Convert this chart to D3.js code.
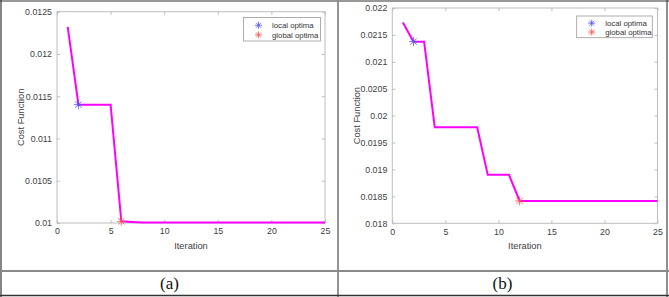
<!DOCTYPE html>
<html><head><meta charset="utf-8">
<script src="https://cdn.jsdelivr.net/npm/d3@7"></script>
<style>body{margin:0;background:#fff}svg{display:block}</style>
</head><body>
<svg id="c" width="669" height="297"></svg>
<script>
// ---- data ----
const iterations = d3.range(1, 26);
const costA = [0.01232, 0.01140, 0.01140, 0.01140, 0.01140, 0.010020, 0.010012,
  0.010005,0.010005,0.010005,0.010005,0.010005,0.010005,0.010005,0.010005,0.010005,
  0.010005,0.010005,0.010005,0.010005,0.010005,0.010005,0.010005,0.010005,0.010005];
const costB = [0.02173, 0.021375, 0.021375, 0.019785, 0.019785, 0.019785, 0.019785, 0.019785,
  0.01890, 0.01890, 0.01890, 0.018415, 0.018415, 0.018415, 0.018415, 0.018415, 0.018415,
  0.018415, 0.018415, 0.018415, 0.018415, 0.018415, 0.018415, 0.018415, 0.018415];
const localA = {x: 2, y: 0.01140}, globalA = {x: 6, y: 0.010020};
const localB = {x: 2, y: 0.021375}, globalB = {x: 12, y: 0.018415};
const xTicks = [0, 5, 10, 15, 20, 25];
const yTicksA = [0.01, 0.0105, 0.011, 0.0115, 0.012, 0.0125];
const yTicksB = [0.018, 0.0185, 0.019, 0.0195, 0.02, 0.0205, 0.021, 0.0215, 0.022];
const legendLabels = ["local optima", "global optima"];
const captions = ["(a)", "(b)"];

const svg = d3.select("#c");
svg.append("rect").attr("width",669).attr("height",297).attr("fill","#fff");

const FONT = "'Liberation Sans', Arial, Helvetica, sans-serif";

function asterisk(g, cx, cy, color, r, w) {
  const s = g.append("g").attr("transform", `translate(${cx},${cy})`)
    .attr("stroke", color).attr("stroke-width", w || 0.8);
  [0, 45, 90, 135].forEach(a => {
    const t = a * Math.PI / 180;
    s.append("line").attr("x1", -r*Math.cos(t)).attr("y1", -r*Math.sin(t))
      .attr("x2", r*Math.cos(t)).attr("y2", r*Math.sin(t));
  });
}

function panel(cfg) {
  const x = d3.scaleLinear().domain([0, 25]).range([cfg.x0, cfg.x1]);
  const y = d3.scaleLinear().domain(cfg.yDomain).range([cfg.y1, cfg.y0]);
  const g = svg.append("g");
  const axisColor = "#bdbdbd", textColor = "#404040";

  g.append("rect").attr("x", cfg.x0).attr("y", cfg.y0)
    .attr("width", cfg.x1 - cfg.x0).attr("height", cfg.y1 - cfg.y0)
    .attr("fill", "none").attr("stroke", axisColor).attr("stroke-width", 1);

  const ax = g.append("g").attr("transform", `translate(0,${cfg.y1})`)
    .call(d3.axisBottom(x).tickValues(xTicks).tickSize(-3).tickPadding(5).tickFormat(d3.format("d")));
  const axT = g.append("g").attr("transform", `translate(0,${cfg.y0})`)
    .call(d3.axisTop(x).tickValues(xTicks).tickSize(-3).tickFormat(""));
  const ay = g.append("g").attr("transform", `translate(${cfg.x0},0)`)
    .call(d3.axisLeft(y).tickValues(cfg.yTicks).tickSize(-3).tickPadding(5).tickFormat(d => String(+d.toFixed(5))));
  const ayR = g.append("g").attr("transform", `translate(${cfg.x1},0)`)
    .call(d3.axisRight(y).tickValues(cfg.yTicks).tickSize(-3).tickFormat(""));
  [ax, axT, ay, ayR].forEach(a => {
    a.select(".domain").remove();
    a.selectAll("line").attr("stroke", axisColor);
    a.selectAll("text").attr("fill", textColor).style("font-family", FONT).style("font-size", "8.8px");
  });

  g.append("text").attr("x", (cfg.x0 + cfg.x1) / 2).attr("y", cfg.y1 + 26)
    .attr("text-anchor", "middle").attr("fill", textColor)
    .style("font-family", FONT).style("font-size", "9.3px").text("Iteration");
  g.append("text").attr("transform", `translate(${cfg.ylx},${(cfg.y0 + cfg.y1) / 2}) rotate(-90)`)
    .attr("text-anchor", "middle").attr("dy", "0.35em").attr("fill", textColor)
    .style("font-family", FONT).style("font-size", "9.3px").text("Cost Function");

  const line = d3.line().x((d, i) => x(iterations[i])).y(d => y(d));
  g.append("path").datum(cfg.data).attr("d", line)
    .attr("fill", "none").attr("stroke", "#ff00ff").attr("stroke-width", 2)
    .attr("stroke-linejoin", "miter");

  asterisk(g, x(cfg.local.x), y(cfg.local.y), "#5050ff", 4.5);
  asterisk(g, x(cfg.global.x), y(cfg.global.y), "#ff5050", 4.5);

  const L = cfg.legend;
  g.append("rect").attr("x", L.x).attr("y", L.y).attr("width", L.w).attr("height", L.h)
    .attr("fill", "#fff").attr("stroke", "#9a9a9a").attr("stroke-width", 0.8);
  const colors = ["#5050ff", "#ff5050"];
  legendLabels.forEach((lab, i) => {
    const cy = L.y + L.h * (i === 0 ? 0.33 : 0.74);
    asterisk(g, L.x + 15, cy, colors[i], 3.5);
    g.append("text").attr("x", L.x + 28.5).attr("y", cy).attr("dy", "0.35em")
      .attr("fill", "#333").style("font-family", FONT).style("font-size", "7.8px").text(lab);
  });

  svg.append("text").attr("x", cfg.capX).attr("y", 283).attr("dy", "0.35em")
    .attr("text-anchor", "middle").attr("fill", "#111")
    .style("font-family", "'Liberation Serif', 'Times New Roman', serif").style("font-size", "17px")
    .text(cfg.caption);
}

panel({x0: 57, x1: 325, y0: 11.7, y1: 223, yDomain: [0.01, 0.0125], yTicks: yTicksA,
  data: costA, local: localA, global: globalA, ylx: 20.5,
  legend: {x: 243.5, y: 17.5, w: 77, h: 23.5}, capX: 169.5, caption: captions[0]});
panel({x0: 392.3, x1: 657.5, y0: 8, y1: 223.3, yDomain: [0.018, 0.022], yTicks: yTicksB,
  data: costB, local: localB, global: globalB, ylx: 356.7,
  legend: {x: 576.7, y: 16, w: 75.6, h: 21.7}, capX: 502.5, caption: captions[1]});

const T = svg.append("g").attr("fill", "none");
T.append("line").attr("x1", 0).attr("x2", 669).attr("y1", 1).attr("y2", 1).attr("stroke", "#333").attr("stroke-width", 1.2);
T.append("line").attr("x1", 1).attr("x2", 1).attr("y1", 0).attr("y2", 297).attr("stroke", "#333").attr("stroke-width", 1.2);
T.append("line").attr("x1", 667).attr("x2", 667).attr("y1", 0).attr("y2", 297).attr("stroke", "#444").attr("stroke-width", 1.2);
T.append("line").attr("x1", 338).attr("x2", 338).attr("y1", 0).attr("y2", 297).attr("stroke", "#888").attr("stroke-width", 1.8);
T.append("line").attr("x1", 0).attr("x2", 669).attr("y1", 271).attr("y2", 271).attr("stroke", "#8a8a8a").attr("stroke-width", 1.8);
T.append("line").attr("x1", 0).attr("x2", 669).attr("y1", 295.5).attr("y2", 295.5).attr("stroke", "#333").attr("stroke-width", 1.5);
</script>
</body></html>
